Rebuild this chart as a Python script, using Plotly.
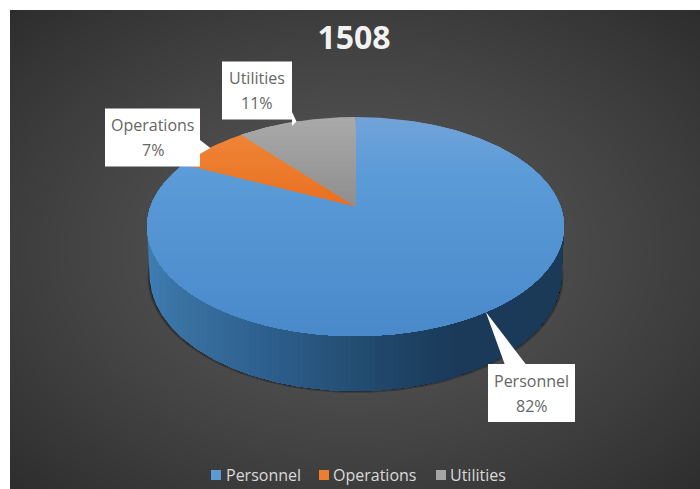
import numpy as np
import plotly.graph_objects as go

# ---- data ----
title_text = "1508"
categories = ["Personnel", "Operations", "Utilities"]
shares = [82, 7, 11]

# ---- style ----
top_colors = {
    "Personnel": [(117, "#72a4d9"), (175, "#5b9bd8"), (336, "#4a8acb")],
    "Operations": [(117, "#f08a3e"), (206, "#ea7020")],
    "Utilities": [(117, "#aaaaaa"), (206, "#8f8f8f")],
}
legend_colors = ["#5b9bd5", "#ed7d31", "#a5a5a5"]
side_stops = [(147, "#3f7db4"), (190, "#38709f"), (260, "#2e6190"), (340, "#265178"),
              (400, "#1f4466"), (450, "#1b3b5b"), (564, "#1b3a58")]
FONT = "Open Sans"

# projection of the pie disc on to the page (pixel frame)
CX, APEX_Y, K = 355.5, 206.0, 0.187
SX, SY = 204.8, 105.7
BOTTOM_CY, BOTTOM_RX, BOTTOM_RY = 275.0, 206.0, 116.0
TOP_CY, TOP_RX, TOP_RY = 226.0, 208.5, 110.0


def project(theta):
    u, v = np.sin(theta), np.cos(theta)
    w = 1 + K * v
    return CX + SX * u / w, APEX_Y - SY * v / w


def hex2rgb(c):
    return np.array([int(c[i:i + 2], 16) for i in (1, 3, 5)], float)


def ramp(stops, t):
    xs = [s[0] for s in stops]
    rgb = np.array([hex2rgb(s[1]) for s in stops])
    return "rgb(%d,%d,%d)" % tuple(np.interp(t, xs, rgb[:, i]) for i in range(3))


def clip(px, py, axis, limit):
    """keep the part of a polygon with coordinate >= limit"""
    pts = np.column_stack([px, py])
    out = []
    for a, b in zip(pts, np.roll(pts, -1, axis=0)):
        ina, inb = a[axis] >= limit, b[axis] >= limit
        if ina:
            out.append(a)
        if ina != inb:
            f = (limit - a[axis]) / (b[axis] - a[axis])
            out.append(a + f * (b - a))
    if not out:
        return None, None
    out = np.array(out)
    return out[:, 0], out[:, 1]


def fill(fig, x, y, color, name=None, opacity=1):
    fig.add_trace(go.Scatter(x=np.r_[x, x[0]], y=np.r_[y, y[0]], mode="lines", fill="toself",
                             fillcolor=color, line=dict(width=0), opacity=opacity,
                             hoverinfo="skip", showlegend=False, name=name))


fig = go.Figure()

# background: radial gradient
gx = np.arange(-5, 730, 10.0)
gy = np.arange(-5, 530, 10.0)
GX, GY = np.meshgrid(gx, gy)
dist = np.sqrt(((GX - 355) / 345) ** 2 + ((GY - 250) / 240) ** 2) / np.sqrt(2)
fig.add_trace(go.Heatmap(x=gx, y=gy, z=0x58 - (0x58 - 0x2d) * dist ** 1.3, zmin=0, zmax=255, zsmooth="best",
                         colorscale=[[0, "#000000"], [1, "#ffffff"]], showscale=False, hoverinfo="skip"))

# shadow under the disc
t = np.linspace(0, 2 * np.pi, 361)
fill(fig, CX + (BOTTOM_RX + 2) * np.cos(t), BOTTOM_CY + 2 + BOTTOM_RY * np.sin(t), "#000000", opacity=0.25)
fill(fig, CX + (BOTTOM_RX + 0.5) * np.cos(t), BOTTOM_CY + 0.5 + BOTTOM_RY * np.sin(t), "#0a0a0a", opacity=0.8)

# rim, painted left to right
a = np.linspace(np.pi, 0, 241)
rim_x = np.r_[CX + TOP_RX * np.cos(a), CX + BOTTOM_RX * np.cos(a[::-1])]
rim_y = np.r_[TOP_CY + TOP_RY * np.sin(a), BOTTOM_CY + BOTTOM_RY * np.sin(a[::-1])]
for xs in np.arange(147, 564, 6):
    cx_, cy_ = clip(rim_x, rim_y, 0, xs)
    if cx_ is not None:
        fill(fig, cx_, cy_, ramp(side_stops, xs + 3))

# top face, painted top to bottom
edges = 2 * np.pi * np.r_[0, np.cumsum(shares)] / sum(shares)
for name, share, a0, a1 in zip(categories, shares, edges[:-1], edges[1:]):
    th = np.linspace(a0, a1, max(int(share * 6), 20))
    ex, ey = project(th)
    px, py = np.r_[CX, ex], np.r_[APEX_Y, ey]
    stops = top_colors[name]
    for ys in np.arange(py.min() - 1, py.max(), 5):
        sx_, sy_ = clip(px, py, 1, ys)
        if sx_ is not None and len(sx_) > 2:
            fill(fig, sx_, sy_, ramp(stops, ys + 2.5), name=name)

# data labels: white callouts pointing at each slice's mid-angle
boxes = {"Personnel": (531.5, 393, 87, 58), "Operations": (152.5, 137.5, 95, 58), "Utilities": (257, 90.5, 70, 58)}
for name, share, a0, a1 in zip(categories, shares, edges[:-1], edges[1:]):
    bx, by, bw, bh = boxes[name]
    tipx, tipy = project((a0 + a1) / 2)
    dx, dy = bx - tipx, by - tipy
    if abs(dy) * bw > abs(dx) * bh:
        edge_y = by - np.sign(dy) * bh / 2
        mid = tipx + (edge_y - tipy) * dx / dy
        lo, hi = np.clip([mid - 10.5, mid + 10.5], bx - bw / 2, bx + bw / 2)
        base = [(lo, edge_y), (hi, edge_y)]
    else:
        edge_x = bx - np.sign(dx) * bw / 2
        mid = tipy + (edge_x - tipx) * dy / dx
        base = [(edge_x, mid - 6), (edge_x, mid + 8)]
    fill(fig, np.array([tipx, base[0][0], base[1][0]]), np.array([tipy, base[0][1], base[1][1]]), "#ffffff", name=name)
    fill(fig, bx + np.array([-bw, bw, bw, -bw]) / 2, by + np.array([-bh, -bh, bh, bh]) / 2, "#ffffff", name=name)

annotations = []
for name, share in zip(categories, shares):
    bx, by, bw, bh = boxes[name]
    for txt, off in ((name, -12.5), (f"{share}%", 12.5)):
        annotations.append(dict(x=bx, y=by + off, xref="x", yref="y", text=txt, showarrow=False,
                                font=dict(family=FONT, size=16, color="#666666")))

# legend row
legend_swatch_x = [216, 324, 441]
legend_text_x = [226, 333, 450]
LEGEND_Y = 475
fig.add_trace(go.Scatter(x=legend_swatch_x, y=[LEGEND_Y] * 3, mode="markers", hoverinfo="skip", showlegend=False,
                         marker=dict(symbol="square", size=10, color=legend_colors, line=dict(width=0))))
for name, lx in zip(categories, legend_text_x):
    annotations.append(dict(x=lx, y=LEGEND_Y, xref="x", yref="y", text=name, showarrow=False, xanchor="left",
                            xshift=-2, font=dict(family=FONT, size=16, color="#d9d9d9")))

# white page margin at the left and top
margins = [dict(type="rect", xref="x", yref="y", x0=0, x1=10, y0=0, y1=489, fillcolor="#ffffff", line_width=0, layer="above"),
           dict(type="rect", xref="x", yref="y", x0=0, x1=700, y0=0, y1=10, fillcolor="#ffffff", line_width=0, layer="above")]

fig.update_layout(
    width=700, height=489, margin=dict(l=0, r=0, t=0, b=0),
    paper_bgcolor="#3b3b3b", plot_bgcolor="#3b3b3b",
    xaxis=dict(range=[0, 700], visible=False, fixedrange=True),
    yaxis=dict(range=[489, 0], visible=False, fixedrange=True),
    title=dict(text=f"<b>{title_text}</b>", x=354 / 700, xanchor="center", y=1 - 38 / 489, yanchor="middle",
               font=dict(family=FONT, size=32, color="#f2f2f2")),
    annotations=annotations, shapes=margins, showlegend=False,
)

fig.write_html("out.html", config={"displayModeBar": False},
               post_script="document.body.style.margin='0';document.body.style.overflow='hidden';document.body.style.background='#3b3b3b';")
